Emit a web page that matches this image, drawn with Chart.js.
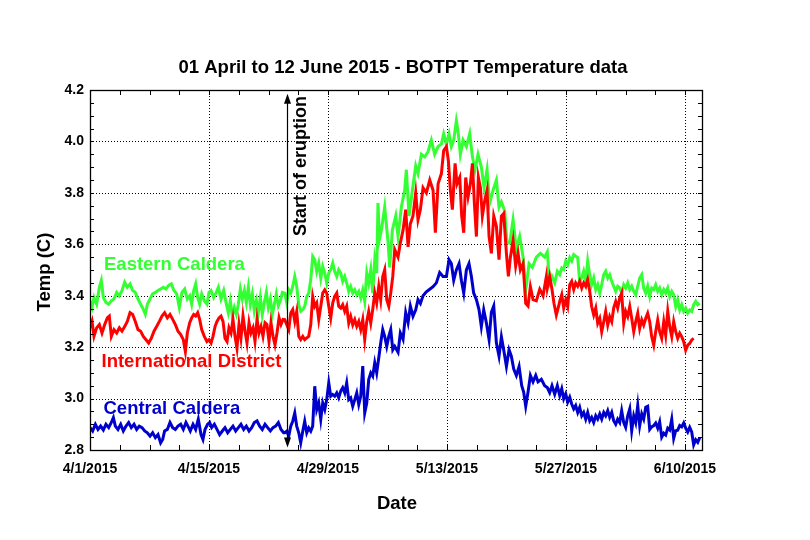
<!DOCTYPE html>
<html>
<head>
<meta charset="utf-8">
<script src="https://cdn.jsdelivr.net/npm/chart.js@4.4.1/dist/chart.umd.min.js"></script>
<style>
  html, body { margin: 0; padding: 0; background: #ffffff; }
  #wrap { width: 810px; height: 540px; }
</style>
</head>
<body>
<div id="wrap"><canvas id="c" width="810" height="540"></canvas></div>
<script>
// ---------------- DATA (days since 4/1/2015, temperature in C) ----------------
const chartTitle = '01 April to 12 June 2015 - BOTPT Temperature data';
const xAxisTitle = 'Date';
const yAxisTitle = 'Temp (C)';
const eruptionLabel = 'Start of eruption';
const eruptionDay = 23.15;

const xTickDays = [0, 14, 28, 42, 56, 70];
const xTickLabels = ['4/1/2015', '4/15/2015', '4/29/2015', '5/13/2015', '5/27/2015', '6/10/2015'];
const yTickValues = [2.8, 3.0, 3.2, 3.4, 3.6, 3.8, 4.0, 4.2];
const yTickLabels = ['2.8', '3.0', '3.2', '3.4', '3.6', '3.8', '4.0', '4.2'];

const seriesNames = ['Eastern Caldera', 'International District', 'Central Caldera'];

// Eastern Caldera
const eastDays = [0, 0.24, 0.47, 0.78, 1.10, 1.33, 1.57, 1.88, 2.20, 2.51, 2.82, 3.14, 3.45, 3.76, 4.08, 4.39, 4.71, 5.02, 5.33, 5.65, 5.96, 6.27, 6.51, 6.75, 7.06, 7.37, 7.69, 8.0, 8.31, 8.63, 8.94, 9.25, 9.57, 9.88, 10.20, 10.51, 10.82, 11.14, 11.45,
  11.73, 11.96, 12.20, 12.43, 12.67, 12.90, 13.14, 13.45, 13.76, 14.0, 14.24, 14.55, 14.86, 15.1, 15.41, 15.73, 16.04, 16.27, 16.51, 16.75, 16.98, 17.22, 17.45, 17.69, 17.92, 18.16, 18.39, 18.63, 18.86, 19.10, 19.33, 19.57, 19.80, 20.04, 20.27, 20.51, 20.75, 20.98, 21.22, 21.45, 21.69, 21.92, 22.16, 22.39, 22.63,
  22.91, 23.15, 23.38, 23.62, 23.85, 24.09, 24.32, 24.56, 24.79, 25.03, 25.26, 25.50, 25.73, 25.97, 26.20, 26.44, 26.67, 26.91, 27.15, 27.38, 27.62, 27.85, 28.09, 28.32, 28.56, 28.79, 29.03, 29.26, 29.50, 29.73, 29.97, 30.20, 30.44, 30.67, 30.91, 31.15, 31.38, 31.62, 31.85, 32.09, 32.32, 32.56, 32.79, 33.03, 33.26, 33.50, 33.73,
  33.88, 34.05, 34.28, 34.67, 35.06,
  35.26, 35.57, 35.97, 36.24, 36.63, 37.02, 37.22, 37.53, 37.93, 38.32, 38.59, 38.99, 39.38, 39.77, 40.16, 40.55, 40.95, 41.34, 41.61, 41.93, 42.24, 42.51, 42.79, 43.1, 43.3, 43.57, 43.89, 44.28, 44.67, 44.99, 45.3, 45.65, 46.04, 46.36, 46.71, 47.02, 47.42, 47.81, 48.12, 48.4, 48.79, 49.06, 49.38, 49.77, 50.16, 50.55, 50.95, 51.26, 51.65, 52.04, 52.51, 52.99, 53.49,
  53.8, 54.08, 54.35, 54.67, 54.98,
  55.26, 55.50, 55.73, 55.97, 56.20, 56.44, 56.67, 56.91, 57.14, 57.38, 57.61, 57.85, 58.08, 58.32, 58.55, 58.79, 59.02, 59.26, 59.50, 59.73, 59.97, 60.20, 60.44, 60.67, 60.91, 61.14, 61.38, 61.61, 61.85, 62.08, 62.32, 62.55, 62.79, 63.02, 63.26, 63.50, 63.73, 63.97, 64.20, 64.44, 64.67, 64.91, 65.14, 65.38, 65.61, 65.85, 66.08, 66.32, 66.55, 66.79, 67.02, 67.26, 67.50, 67.73, 67.97, 68.20, 68.44, 68.67, 68.91, 69.14, 69.38, 69.61, 69.85, 70.08, 70.32, 70.55, 70.79, 71.02, 71.26, 71.50, 71.73];
const eastTemps = [3.38, 3.354, 3.393, 3.367, 3.433, 3.459, 3.393, 3.374, 3.367, 3.38, 3.387, 3.413, 3.40, 3.42, 3.453, 3.433, 3.446, 3.42, 3.413, 3.387, 3.367, 3.347, 3.328, 3.367, 3.387, 3.407, 3.413, 3.42, 3.426, 3.433, 3.426, 3.44, 3.446, 3.42, 3.407, 3.354, 3.413, 3.426, 3.387,
  3.40, 3.367, 3.42, 3.446, 3.393, 3.367, 3.407, 3.38, 3.367, 3.413, 3.42, 3.393, 3.413, 3.433, 3.387, 3.42, 3.367, 3.334, 3.38, 3.321, 3.354, 3.328, 3.367, 3.426, 3.387, 3.42, 3.374, 3.433, 3.367, 3.407, 3.341, 3.38, 3.334, 3.393, 3.328, 3.374, 3.413, 3.354, 3.387, 3.328, 3.367, 3.407, 3.361, 3.38, 3.413,
  3.41, 3.372, 3.423, 3.41, 3.436, 3.475, 3.436, 3.365, 3.339, 3.346, 3.359, 3.397, 3.41, 3.462, 3.553, 3.54, 3.494, 3.527, 3.469, 3.514, 3.488, 3.449, 3.488, 3.501, 3.527, 3.494, 3.475, 3.501, 3.488, 3.456, 3.475, 3.449, 3.417, 3.436, 3.41, 3.423, 3.404, 3.417, 3.391, 3.423, 3.378, 3.488, 3.449, 3.501, 3.41, 3.54, 3.488,
  3.76, 3.62, 3.655, 3.745, 3.61,
  3.51, 3.655, 3.71, 3.63, 3.745, 3.81, 3.89, 3.71, 3.81, 3.905, 3.875, 3.95, 3.94, 3.96, 4.005, 3.95, 3.98, 3.99, 4.03, 3.99, 4.03, 3.98, 4.005, 4.08, 4.04, 3.95, 4.005, 3.98, 4.03, 3.94, 3.89, 3.95, 3.90, 3.82, 3.89, 3.76, 3.81, 3.85, 3.745, 3.765, 3.73, 3.605, 3.605, 3.695, 3.58, 3.63, 3.55, 3.42, 3.525, 3.51, 3.55, 3.565, 3.55,
  3.57, 3.45, 3.475, 3.45, 3.495,
  3.482, 3.508, 3.502, 3.535, 3.52, 3.548, 3.535, 3.56, 3.554, 3.548, 3.456, 3.469, 3.495, 3.456, 3.535, 3.482, 3.443, 3.469, 3.424, 3.443, 3.41, 3.443, 3.482, 3.495, 3.469, 3.482, 3.456, 3.437, 3.417, 3.437, 3.43, 3.41, 3.443, 3.43, 3.45, 3.424, 3.437, 3.417, 3.404, 3.437, 3.469, 3.482, 3.43, 3.41, 3.437, 3.397, 3.43, 3.424, 3.443, 3.417, 3.43, 3.404, 3.424, 3.41, 3.43, 3.397, 3.417, 3.404, 3.358, 3.384, 3.345, 3.365, 3.339, 3.352, 3.332, 3.345, 3.339, 3.365, 3.378, 3.365, 3.371];

// International District
const intlDays = [0, 0.24, 0.47, 0.78, 1.10, 1.41, 1.73, 2.04, 2.27, 2.51, 2.82, 3.14, 3.45, 3.76, 4.08, 4.39, 4.71, 5.02, 5.33, 5.65, 5.96, 6.27, 6.59, 6.90, 7.22, 7.53, 7.84, 8.16, 8.47, 8.78, 9.10, 9.41, 9.73, 10.04, 10.35, 10.67, 10.98, 11.22, 11.45,
  11.73, 11.96, 12.20, 12.43, 12.67, 12.90, 13.14, 13.45, 13.76, 14.0, 14.24, 14.47, 14.71, 14.94, 15.18, 15.41, 15.65, 15.88, 16.12, 16.35, 16.59, 16.82, 17.06, 17.29, 17.53, 17.76, 18.0, 18.24, 18.47, 18.71, 18.94, 19.18, 19.41, 19.65, 19.88, 20.12, 20.35, 20.59, 20.82, 21.06, 21.29, 21.53, 21.76, 22.0, 22.24, 22.47, 22.71,
  22.91, 23.15, 23.38, 23.62, 23.85, 24.09, 24.32, 24.56, 24.79, 25.03, 25.26, 25.50, 25.73, 25.97, 26.20, 26.44, 26.67, 26.91, 27.15, 27.38, 27.62, 27.85, 28.09, 28.32, 28.56, 28.79, 29.03, 29.26, 29.50, 29.73, 29.97, 30.20, 30.44, 30.67, 30.91, 31.15, 31.38, 31.62, 31.85, 32.09, 32.32, 32.56, 32.79, 33.03, 33.26, 33.50, 33.73, 33.97, 34.20, 34.44, 34.67, 34.91, 35.15, 35.38, 35.62, 35.85,
  36.24, 36.51, 36.83, 37.14, 37.42, 37.69, 38.0, 38.32, 38.59, 38.87, 39.18, 39.57, 39.97, 40.36, 40.63, 40.95, 41.34, 41.61, 41.93, 42.16, 42.4, 42.63, 42.95, 43.18, 43.5, 43.73, 43.97, 44.2, 44.48, 44.75, 44.99, 45.22, 45.46, 45.69, 45.93, 46.16, 46.44, 46.71, 46.95, 47.22, 47.5, 47.81, 48.12, 48.4, 48.67, 48.99, 49.22, 49.46, 49.77, 50.08, 50.36, 50.63, 50.95, 51.26, 51.53, 51.81, 52.12, 52.51, 52.91, 53.3, 53.69,
  53.8, 54.08, 54.35, 54.59, 54.86, 55.14,
  55.26, 55.50, 55.73, 55.97, 56.20, 56.44, 56.67, 56.91, 57.14, 57.38, 57.61, 57.85, 58.08, 58.32, 58.55, 58.79, 59.02, 59.26, 59.50, 59.73, 59.97, 60.20, 60.44, 60.67, 60.91, 61.14, 61.38, 61.61, 61.85, 62.08, 62.32, 62.55, 62.79, 63.02, 63.26, 63.50, 63.73, 63.97, 64.20, 64.44, 64.67, 64.91, 65.14, 65.38, 65.61, 65.85, 66.08, 66.32, 66.55, 66.79, 67.02, 67.26, 67.50, 67.73, 67.97, 68.20, 68.44, 68.67, 68.91, 69.14, 69.38, 69.61, 69.85, 70.08, 70.32, 70.55, 70.79, 71.02];
const intlTemps = [3.275, 3.30, 3.242, 3.275, 3.288, 3.255, 3.288, 3.314, 3.321, 3.242, 3.268, 3.255, 3.275, 3.262, 3.28, 3.30, 3.334, 3.327, 3.30, 3.268, 3.262, 3.242, 3.229, 3.216, 3.235, 3.262, 3.28, 3.30, 3.321, 3.334, 3.314, 3.327, 3.308, 3.288, 3.262, 3.249, 3.229, 3.183, 3.255,
  3.295, 3.314, 3.327, 3.321, 3.334, 3.308, 3.268, 3.242, 3.222, 3.229, 3.216, 3.242, 3.28, 3.30, 3.314, 3.321, 3.30, 3.235, 3.222, 3.275, 3.255, 3.308, 3.242, 3.196, 3.288, 3.235, 3.321, 3.262, 3.216, 3.295, 3.255, 3.275, 3.222, 3.308, 3.255, 3.28, 3.242, 3.295, 3.288, 3.222, 3.295, 3.242, 3.209, 3.255, 3.314, 3.288, 3.308,
  3.307, 3.287, 3.268, 3.333, 3.346, 3.30, 3.339, 3.242, 3.229, 3.242, 3.229, 3.236, 3.242, 3.287, 3.397, 3.359, 3.372, 3.307, 3.359, 3.41, 3.423, 3.41, 3.359, 3.313, 3.372, 3.397, 3.41, 3.359, 3.352, 3.365, 3.339, 3.359, 3.294, 3.32, 3.287, 3.307, 3.281, 3.30, 3.268, 3.307, 3.229, 3.30, 3.339, 3.294, 3.346, 3.41, 3.372, 3.436, 3.384, 3.475, 3.501, 3.384, 3.359, 3.41, 3.475, 3.579,
  3.55, 3.605, 3.655, 3.735, 3.59, 3.68, 3.71, 3.80, 3.695, 3.735, 3.82, 3.80, 3.85, 3.81, 3.645, 3.835, 3.875, 3.965, 3.98, 3.925, 3.81, 3.735, 3.915, 3.835, 3.86, 3.71, 3.645, 3.86, 3.785, 3.835, 3.915, 3.76, 3.63, 3.86, 3.82, 3.71, 3.77, 3.81, 3.63, 3.565, 3.71, 3.67, 3.54, 3.71, 3.72, 3.565, 3.475, 3.55, 3.615, 3.515, 3.565, 3.50, 3.525, 3.37, 3.36, 3.435, 3.385, 3.38, 3.425, 3.40, 3.475,
  3.43, 3.475, 3.425, 3.37, 3.325, 3.36,
  3.378, 3.404, 3.352, 3.384, 3.358, 3.443, 3.456, 3.424, 3.45, 3.437, 3.456, 3.43, 3.45, 3.437, 3.463, 3.417, 3.358, 3.325, 3.352, 3.293, 3.312, 3.26, 3.299, 3.339, 3.286, 3.319, 3.299, 3.352, 3.378, 3.352, 3.391, 3.41, 3.293, 3.339, 3.319, 3.358, 3.312, 3.26, 3.299, 3.332, 3.273, 3.306, 3.286, 3.312, 3.332, 3.299, 3.241, 3.208, 3.26, 3.306, 3.26, 3.234, 3.299, 3.247, 3.339, 3.28, 3.241, 3.299, 3.26, 3.234, 3.254, 3.241, 3.221, 3.188, 3.208, 3.214, 3.228, 3.234];

// Central Caldera
const centralDays = [0, 0.31, 0.63, 0.94, 1.25, 1.57, 1.88, 2.20, 2.51, 2.75, 2.98, 3.29, 3.61, 3.92, 4.24, 4.55, 4.86, 5.18, 5.49, 5.80, 6.12, 6.43, 6.75, 7.06, 7.37, 7.69, 8.0, 8.31, 8.55, 8.78, 9.10, 9.41, 9.73, 10.04, 10.35, 10.67, 10.98, 11.29, 11.61,
  11.80, 12.12, 12.43, 12.74, 13.06, 13.29, 13.53, 13.84, 14.08, 14.31, 14.63, 14.94, 15.25, 15.57, 15.88, 16.20, 16.51, 16.82, 17.14, 17.45, 17.76, 18.08, 18.39, 18.71, 19.02, 19.33, 19.65, 19.96, 20.27, 20.59, 20.90, 21.22, 21.53, 21.84, 22.16, 22.47, 22.78,
  22.91, 23.15, 23.38, 23.62, 23.85, 24.09, 24.32, 24.56, 24.79, 25.03, 25.26, 25.50, 25.73, 25.97, 26.20, 26.44, 26.67, 26.91, 27.15, 27.38, 27.62, 27.85, 28.09, 28.32, 28.56, 28.79, 29.03, 29.26, 29.50, 29.73, 29.97, 30.20, 30.44, 30.67, 30.91, 31.15, 31.38, 31.62, 31.85, 32.09, 32.32, 32.56, 32.79, 33.03, 33.26, 33.50, 33.73, 33.97, 34.20, 34.44, 34.67, 34.91, 35.15, 35.38, 35.62, 35.85,
  36.24, 36.51, 36.83, 37.14, 37.42, 37.69, 38.0, 38.32, 38.59, 38.87, 39.18, 39.57, 39.97, 40.36, 40.75, 41.14, 41.53, 41.93, 42.24, 42.51, 42.79, 43.1, 43.42, 43.69, 43.97, 44.28, 44.59, 44.87, 45.14, 45.46, 45.77, 46.04, 46.32, 46.63, 46.95, 47.22, 47.5, 47.81, 48.12, 48.4, 48.67, 48.99, 49.3, 49.57, 49.85, 50.16, 50.48, 50.79, 51.02, 51.26, 51.53, 51.81, 52.12, 52.44, 52.71, 53.1, 53.49,
  53.8, 54.08, 54.35, 54.67, 54.98,
  55.26, 55.50, 55.73, 55.97, 56.20, 56.44, 56.67, 56.91, 57.14, 57.38, 57.61, 57.85, 58.08, 58.32, 58.55, 58.79, 59.02, 59.26, 59.50, 59.73, 59.97, 60.20, 60.44, 60.67, 60.91, 61.14, 61.38, 61.61, 61.85, 62.08, 62.32, 62.55, 62.79, 63.02, 63.26, 63.50, 63.73, 63.97, 64.20, 64.44, 64.67, 64.91, 65.14, 65.38, 65.61, 65.85, 66.08, 66.32, 66.55, 66.79, 67.02, 67.26, 67.50, 67.73, 67.97, 68.20, 68.44, 68.67, 68.91, 69.14, 69.38, 69.61, 69.85, 70.08, 70.32, 70.55, 70.79, 71.02, 71.26, 71.50, 71.73];
const centralTemps = [2.887, 2.874, 2.90, 2.88, 2.893, 2.878, 2.90, 2.887, 2.907, 2.926, 2.893, 2.88, 2.90, 2.874, 2.893, 2.907, 2.887, 2.90, 2.88, 2.893, 2.887, 2.874, 2.867, 2.854, 2.867, 2.848, 2.86, 2.828, 2.841, 2.874, 2.88, 2.907, 2.887, 2.88, 2.893, 2.90, 2.88, 2.907, 2.887,
  2.874, 2.90, 2.88, 2.92, 2.86, 2.841, 2.88, 2.90, 2.907, 2.887, 2.90, 2.88, 2.86, 2.874, 2.887, 2.867, 2.88, 2.893, 2.874, 2.887, 2.90, 2.88, 2.893, 2.874, 2.887, 2.907, 2.913, 2.893, 2.88, 2.90, 2.887, 2.874, 2.887, 2.893, 2.907, 2.88, 2.867,
  2.867, 2.873, 2.854, 2.893, 2.912, 2.944, 2.893, 2.867, 2.828, 2.873, 2.912, 2.867, 2.886, 2.873, 2.893, 3.048, 2.957, 2.983, 2.919, 2.983, 2.957, 2.996, 3.061, 3.009, 3.016, 3.009, 3.022, 3.003, 3.029, 3.042, 3.022, 3.061, 2.996, 3.003, 2.97, 2.996, 3.022, 2.977, 3.009, 3.126, 2.944, 2.983, 3.074, 3.10, 3.087, 3.139, 3.10, 3.158, 3.216, 3.268, 3.242, 3.203, 3.242, 3.268, 3.19, 3.203,
  3.18, 3.255, 3.23, 3.335, 3.295, 3.36, 3.32, 3.345, 3.385, 3.37, 3.40, 3.415, 3.425, 3.435, 3.45, 3.49, 3.475, 3.475, 3.54, 3.525, 3.46, 3.50, 3.525, 3.46, 3.41, 3.50, 3.525, 3.475, 3.41, 3.385, 3.345, 3.28, 3.345, 3.295, 3.23, 3.335, 3.36, 3.217, 3.165, 3.24, 3.19, 3.125, 3.19, 3.165, 3.115, 3.09, 3.125, 3.05, 3.025, 2.97, 3.025, 3.09, 3.065, 3.09, 3.065, 3.075, 3.05,
  3.043, 3.023, 3.05, 3.017, 3.05,
  3.012, 3.038, 2.999, 3.018, 2.986, 3.005, 2.979, 2.96, 2.973, 2.946, 2.966, 2.933, 2.946, 2.92, 2.946, 2.914, 2.927, 2.907, 2.933, 2.92, 2.94, 2.92, 2.946, 2.933, 2.953, 2.927, 2.946, 2.914, 2.90, 2.92, 2.907, 2.953, 2.907, 2.888, 2.933, 2.96, 2.875, 2.933, 2.907, 2.973, 2.894, 2.94, 2.92, 2.966, 2.97, 2.88, 2.89, 2.895, 2.905, 2.885, 2.91, 2.85, 2.865, 2.858, 2.885, 2.878, 2.92, 2.845, 2.875, 2.877, 2.895, 2.89, 2.905, 2.885, 2.87, 2.888, 2.87, 2.82, 2.84, 2.83, 2.848];

const seriesColors = ['#33FF33', '#FF0000', '#0000CC'];
// -------------------------------------------------------------------------------

const FONT = '"Liberation Sans", Arial, Helvetica, sans-serif';

function toPoints(days, temps) {
  const n = Math.min(days.length, temps.length);
  const pts = [];
  for (let i = 0; i < n; i++) pts.push({ x: days[i], y: temps[i] });
  return pts;
}

const decorPlugin = {
  id: 'decor',
  beforeDatasetsDraw(chart) {
    const { ctx, chartArea: a, scales: { x, y } } = chart;
    ctx.save();
    ctx.strokeStyle = '#000';
    ctx.lineWidth = 1;
    ctx.setLineDash([1, 2]);
    xTickDays.forEach(d => {
      const px = Math.round(x.getPixelForValue(d)) + 0.5;
      if (px <= a.left + 1 || px >= a.right - 1) return;
      ctx.beginPath(); ctx.moveTo(px, a.top); ctx.lineTo(px, a.bottom); ctx.stroke();
    });
    yTickValues.forEach(v => {
      const py = Math.round(y.getPixelForValue(v)) + 0.5;
      if (py <= a.top + 1 || py >= a.bottom - 1) return;
      ctx.beginPath(); ctx.moveTo(a.left, py); ctx.lineTo(a.right, py); ctx.stroke();
    });
    ctx.restore();
  },
  afterDatasetsDraw(chart) {
    const { ctx, chartArea: a, scales: { x, y } } = chart;
    ctx.save();
    ctx.setLineDash([]);
    ctx.strokeStyle = '#000';
    ctx.lineWidth = 1;
    // tick marks, inward, all four sides
    const tl = 5;
    ctx.beginPath();
    for (let d = 0; d <= 72.001; d += 3.5) {
      const px = Math.round(x.getPixelForValue(d)) + 0.5;
      if (px < a.left || px > a.right) continue;
      ctx.moveTo(px, a.bottom); ctx.lineTo(px, a.bottom - tl);
      ctx.moveTo(px, a.top); ctx.lineTo(px, a.top + tl);
    }
    for (let v = 2.8; v <= 4.2001; v += 0.05) {
      const py = Math.round(y.getPixelForValue(v)) + 0.5;
      ctx.moveTo(a.left, py); ctx.lineTo(a.left + 4, py);
      ctx.moveTo(a.right, py); ctx.lineTo(a.right - 4, py);
    }
    ctx.stroke();
    // frame
    ctx.lineWidth = 1.3;
    ctx.strokeRect(Math.round(a.left) + 0.5, Math.round(a.top) + 0.5, Math.round(a.right - a.left), Math.round(a.bottom - a.top));

    // eruption arrow
    const ex = Math.round(x.getPixelForValue(eruptionDay)) + 0.5;
    const yTop = y.getPixelForValue(4.185);
    const yBot = y.getPixelForValue(2.81);
    ctx.lineWidth = 1.2;
    ctx.beginPath(); ctx.moveTo(ex, yTop + 8); ctx.lineTo(ex, yBot - 8); ctx.stroke();
    ctx.fillStyle = '#000';
    ctx.beginPath(); ctx.moveTo(ex, yTop); ctx.lineTo(ex - 3.5, yTop + 10); ctx.lineTo(ex + 3.5, yTop + 10); ctx.closePath(); ctx.fill();
    ctx.beginPath(); ctx.moveTo(ex, yBot); ctx.lineTo(ex - 3.5, yBot - 10); ctx.lineTo(ex + 3.5, yBot - 10); ctx.closePath(); ctx.fill();

    // eruption label (rotated)
    ctx.save();
    ctx.translate(301, 166);
    ctx.rotate(-Math.PI / 2);
    ctx.font = 'bold 18px ' + FONT;
    ctx.textAlign = 'center';
    ctx.textBaseline = 'middle';
    ctx.fillText(eruptionLabel, 0, 0);
    ctx.restore();

    // series labels
    ctx.font = 'bold 18.5px ' + FONT;
    ctx.textAlign = 'left';
    ctx.textBaseline = 'alphabetic';
    ctx.fillStyle = seriesColors[0]; ctx.fillText(seriesNames[0], 104, 269.5);
    ctx.fillStyle = seriesColors[1]; ctx.fillText(seriesNames[1], 101.5, 367);
    ctx.fillStyle = seriesColors[2]; ctx.fillText(seriesNames[2], 103.5, 413.5);

    // title + axis titles
    ctx.fillStyle = '#000';
    ctx.textAlign = 'center';
    ctx.font = 'bold 18.5px ' + FONT;
    ctx.fillText(chartTitle, 403, 73);
    ctx.fillText(xAxisTitle, 397, 509);
    ctx.save();
    ctx.translate(50, 272);
    ctx.rotate(-Math.PI / 2);
    ctx.fillText(yAxisTitle, 0, 0);
    ctx.restore();
    ctx.restore();
  }
};

new Chart(document.getElementById('c'), {
  type: 'line',
  data: {
    datasets: [
      { label: seriesNames[2], data: toPoints(centralDays, centralTemps), borderColor: seriesColors[2] },
      { label: seriesNames[1], data: toPoints(intlDays, intlTemps), borderColor: seriesColors[1] },
      { label: seriesNames[0], data: toPoints(eastDays, eastTemps), borderColor: seriesColors[0] }
    ].map(ds => Object.assign(ds, { borderWidth: 3, pointRadius: 0, tension: 0, fill: false, borderJoinStyle: 'miter' }))
  },
  options: {
    responsive: false,
    animation: false,
    devicePixelRatio: 1,
    layout: { padding: { left: 0, right: 108, top: 90, bottom: 0 } },
    plugins: { legend: { display: false }, title: { display: false }, tooltip: { enabled: false } },
    scales: {
      x: {
        type: 'linear', min: 0, max: 72,
        grid: { display: false, drawTicks: false },
        border: { display: false },
        afterBuildTicks: s => { s.ticks = xTickDays.map(v => ({ value: v })); },
        afterFit: s => { s.height = 90; },
        ticks: {
          autoSkip: false, maxRotation: 0, minRotation: 0, padding: 11, color: '#000',
          font: { family: FONT, size: 14, weight: 'bold' },
          callback: v => xTickLabels[xTickDays.indexOf(v)]
        }
      },
      y: {
        type: 'linear', min: 2.8, max: 4.2,
        grid: { display: false, drawTicks: false },
        border: { display: false },
        afterBuildTicks: s => { s.ticks = yTickValues.map(v => ({ value: v })); },
        afterFit: s => { s.width = 90; },
        ticks: {
          padding: 6, color: '#000',
          font: { family: FONT, size: 14, weight: 'bold' },
          callback: v => yTickLabels[yTickValues.findIndex(t => Math.abs(t - v) < 1e-6)]
        }
      }
    }
  },
  plugins: [decorPlugin]
});
</script>
</body>
</html>
